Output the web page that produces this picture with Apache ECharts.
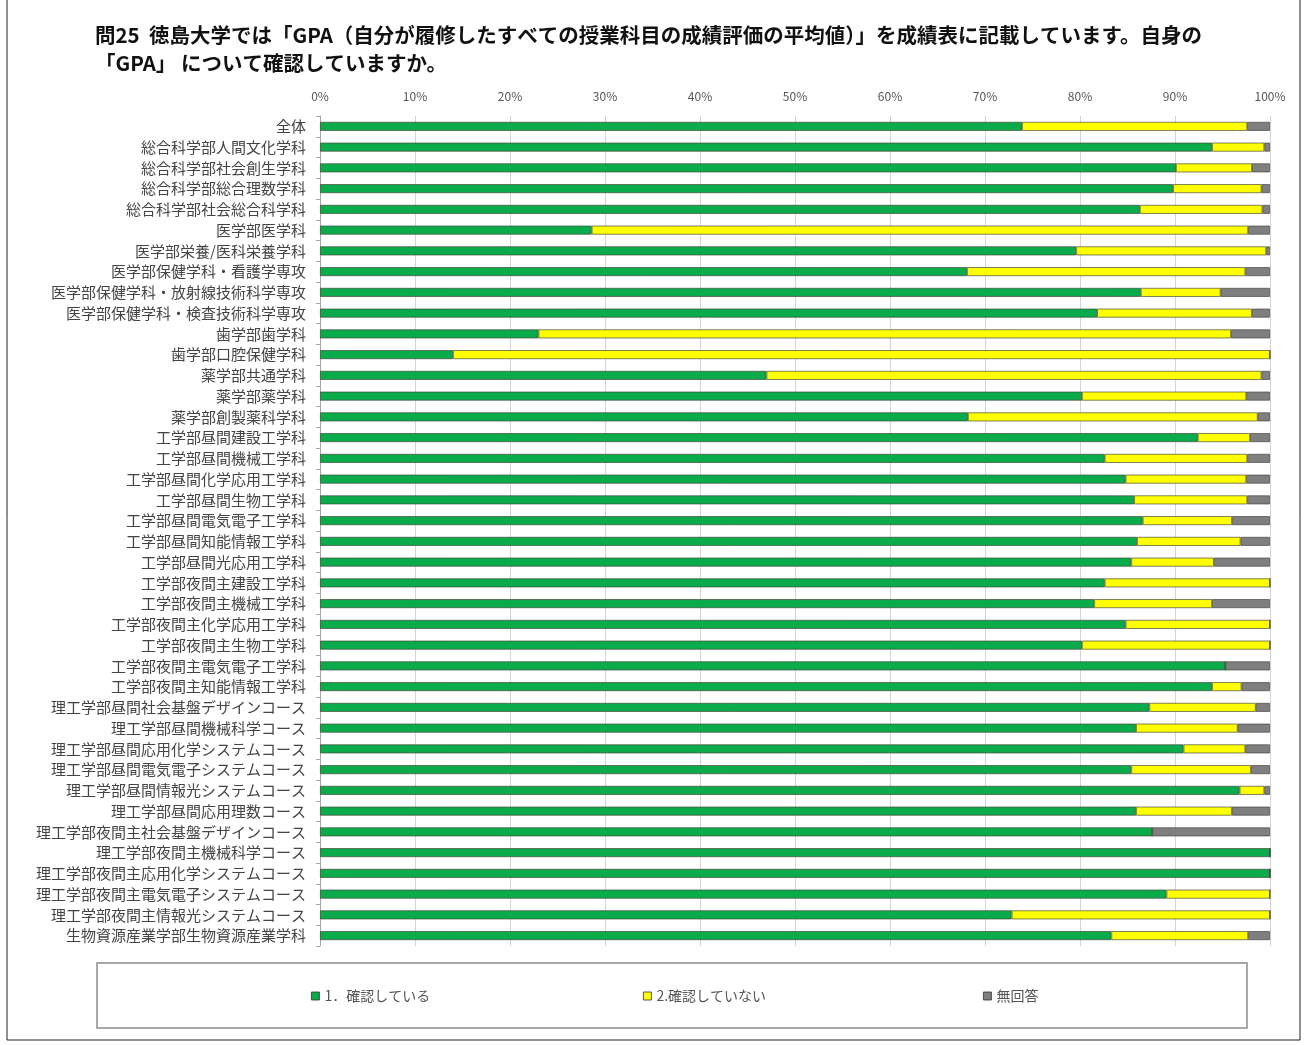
<!DOCTYPE html>
<html>
<head>
<meta charset="utf-8">
<script src="https://cdn.jsdelivr.net/npm/echarts@6/dist/echarts.min.js"></script>
<style>
  html, body { margin: 0; padding: 0; background: #fff; }
  #chart { width: 1309px; height: 1045px; }
</style>
</head>
<body>
<div id="chart"></div>
<script>
// 学科名 (上から順)
var categories = [
  '全体',
  '総合科学部人間文化学科',
  '総合科学部社会創生学科',
  '総合科学部総合理数学科',
  '総合科学部社会総合科学科',
  '医学部医学科',
  '医学部栄養/医科栄養学科',
  '医学部保健学科・看護学専攻',
  '医学部保健学科・放射線技術科学専攻',
  '医学部保健学科・検査技術科学専攻',
  '歯学部歯学科',
  '歯学部口腔保健学科',
  '薬学部共通学科',
  '薬学部薬学科',
  '薬学部創製薬科学科',
  '工学部昼間建設工学科',
  '工学部昼間機械工学科',
  '工学部昼間化学応用工学科',
  '工学部昼間生物工学科',
  '工学部昼間電気電子工学科',
  '工学部昼間知能情報工学科',
  '工学部昼間光応用工学科',
  '工学部夜間主建設工学科',
  '工学部夜間主機械工学科',
  '工学部夜間主化学応用工学科',
  '工学部夜間主生物工学科',
  '工学部夜間主電気電子工学科',
  '工学部夜間主知能情報工学科',
  '理工学部昼間社会基盤デザインコース',
  '理工学部昼間機械科学コース',
  '理工学部昼間応用化学システムコース',
  '理工学部昼間電気電子システムコース',
  '理工学部昼間情報光システムコース',
  '理工学部昼間応用理数コース',
  '理工学部夜間主社会基盤デザインコース',
  '理工学部夜間主機械科学コース',
  '理工学部夜間主応用化学システムコース',
  '理工学部夜間主電気電子システムコース',
  '理工学部夜間主情報光システムコース',
  '生物資源産業学部生物資源産業学科'
];

var seriesNames = ['1．確認している', '2.確認していない', '無回答'];

// 割合 (%)
var confirmed = [73.9, 93.9, 90.1, 89.8, 86.3, 28.6, 79.6, 68.1, 86.4, 81.8,
  23.0, 14.0, 47.0, 80.2, 68.2, 92.4, 82.6, 84.8, 85.7, 86.6,
  86.0, 85.4, 82.6, 81.5, 84.8, 80.2, 95.3, 93.9, 87.3, 85.9,
  90.9, 85.4, 96.8, 85.9, 87.6, 100, 100, 89.1, 72.8, 83.3];
var notConfirmed = [23.7, 5.5, 8.0, 9.3, 12.9, 69.1, 20.0, 29.3, 8.4, 16.3,
  72.9, 86.0, 52.1, 17.3, 30.5, 5.5, 15.0, 12.7, 11.9, 9.4,
  10.9, 8.7, 17.4, 12.4, 15.2, 19.8, 0, 3.1, 11.2, 10.7,
  6.5, 12.6, 2.6, 10.1, 0, 0, 0, 10.9, 27.2, 14.4];
var noAnswer = [2.4, 0.6, 1.9, 0.9, 0.8, 2.3, 0.4, 2.6, 5.2, 1.9,
  4.1, 0, 0.9, 2.5, 1.3, 2.1, 2.4, 2.5, 2.4, 4.0,
  3.1, 5.9, 0, 6.1, 0, 0, 4.7, 3.0, 1.5, 3.4,
  2.6, 2.0, 0.6, 4.0, 12.4, 0, 0, 0, 0, 2.3];

var xTicks = [0, 10, 20, 30, 40, 50, 60, 70, 80, 90, 100];

var colors = ['#0aab4a', '#ffff00', '#7f7f7f'];
var font = '"Noto Sans CJK JP", "Noto Sans", sans-serif';

var chart = echarts.init(document.getElementById('chart'));

function makeSeries(name, data, color) {
  return {
    name: name,
    type: 'bar',
    stack: 'total',
    barWidth: 9,
    data: data,
    itemStyle: {
      color: color,
      borderColor: 'rgba(70,70,60,0.85)',
      borderWidth: 0.8
    },
    animation: false
  };
}

function makeLegend(name, left) {
  return {
    data: [name],
    left: left,
    top: 984,
    icon: 'rect',
    itemWidth: 8,
    itemHeight: 8,
    itemGap: 4,
    itemStyle: { borderColor: '#333', borderWidth: 0.8 },
    textStyle: { fontFamily: font, fontSize: 14, color: '#555' }
  };
}

chart.setOption({
  backgroundColor: '#fff',
  textStyle: { fontFamily: font },
  title: {
    text: '問25  徳島大学では「GPA（自分が履修したすべての授業科目の成績評価の平均値）」を成績表に記載しています。自身の\n「GPA」 について確認していますか。',
    left: 90,
    top: 16,
    textStyle: {
      fontFamily: font,
      fontSize: 20.5,
      fontWeight: 'bold',
      color: '#111',
      lineHeight: 28
    }
  },
  legend: [
    makeLegend(seriesNames[0], 306),
    makeLegend(seriesNames[1], 638),
    makeLegend(seriesNames[2], 978)
  ],
  grid: {
    left: 320,
    right: 39,
    top: 116,
    bottom: 99
  },
  xAxis: {
    type: 'value',
    position: 'top',
    min: xTicks[0],
    max: xTicks[xTicks.length - 1],
    interval: xTicks[1] - xTicks[0],
    axisLine: { show: false },
    axisTick: { show: false },
    axisLabel: {
      formatter: '{value}%',
      fontFamily: font,
      fontSize: 12,
      color: '#555',
      margin: 14
    },
    splitLine: { lineStyle: { color: '#d4d4d4', width: 1 } }
  },
  yAxis: {
    type: 'category',
    inverse: true,
    data: categories,
    axisLine: { show: true, lineStyle: { color: '#a6a6a6' } },
    axisTick: { show: true, length: 4, lineStyle: { color: '#a6a6a6' } },
    axisLabel: {
      fontFamily: font,
      fontSize: 15,
      color: '#444',
      margin: 14
    }
  },
  series: [
    makeSeries(seriesNames[0], confirmed, colors[0]),
    makeSeries(seriesNames[1], notConfirmed, colors[1]),
    makeSeries(seriesNames[2], noAnswer, colors[2])
  ],
  graphic: [
    {
      // 外枠
      type: 'rect',
      shape: { x: 7, y: -2, width: 1293, height: 1042 },
      style: { fill: 'none', stroke: '#222', lineWidth: 1 },
      silent: true
    },
    {
      // 凡例の枠
      type: 'rect',
      shape: { x: 97, y: 963, width: 1150, height: 65 },
      style: { fill: 'none', stroke: '#8c8c8c', lineWidth: 1.5 },
      silent: true
    }
  ]
});
</script>
</body>
</html>
